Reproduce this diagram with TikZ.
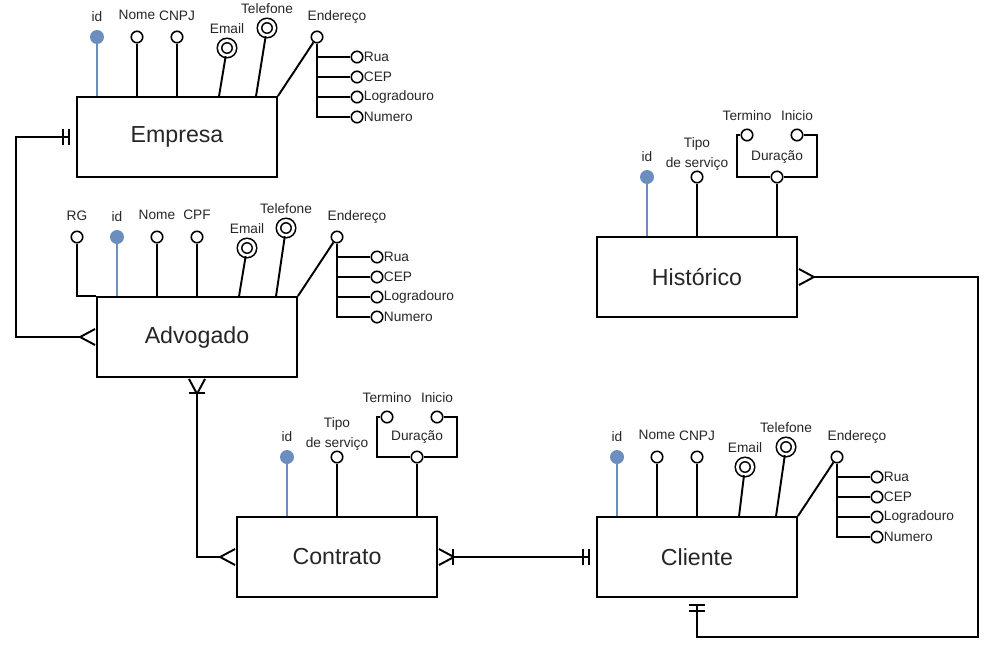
\documentclass[tikz,border=0pt]{standalone}
\usepackage{fontspec}
\setmainfont{Liberation Sans}
\usepackage{tikz}
\usetikzlibrary{arrows.meta,calc,positioning}
\definecolor{keyblue}{HTML}{6C8EBF}
\tikzset{entity/.style={draw,line width=1.1pt,minimum width=4cm,minimum height=1.6cm,font=\fontsize{13.2}{15}\selectfont,text=black!85},
  att/.style={circle,draw,line width=0.9pt,fill=white,inner sep=0pt,minimum size=0.23cm},
  keyatt/.style={circle,fill=keyblue,inner sep=0pt,minimum size=0.28cm},
  multi/.style={att,double,double distance=1.6pt,minimum size=0.3cm},
  lbl/.style={inner sep=0pt,anchor=base,yshift=#1,font=\fontsize{7.8}{11.3}\selectfont,text=black!85},
  lbl/.default=5.5pt,
  slbl/.style={inner sep=0pt,font=\fontsize{7.8}{9}\selectfont,text=black!85},
  edge/.style={line width=1.1pt},
  keyline/.style={keyblue,line width=1.1pt},
  crow/.tip={Straight Barb[reversed,length=0.3cm,width=0.32cm]},
  crowbar/.tip={Bar[width=0.32cm,sep=-0.08cm]Straight Barb[reversed,length=0.3cm,width=0.32cm]},
  bars/.tip={Bar[width=0.32cm,sep=0.08cm]Bar[width=0.32cm,sep=0.13cm]}}
\begin{document}
\begin{tikzpicture}[x=0.02cm,y=-0.02cm]
\useasboundingbox (0,0) rectangle (996,656);
% entities
\node[entity] (emp) at (177,137) {Empresa};
\node[entity] (adv) at (197,337) {Advogado};
\node[entity] (con) at (337,557) {Contrato};
\node[entity] (cli) at (697,557) {Cliente};
\node[entity] (his) at (697,277) {Histórico};

% Empresa
\node[keyatt,label={[lbl=4.5pt]above:id}] (emp-id) at (97,37) {};
\node[att,label={[lbl=6pt]above:Nome}] (emp-nome) at (137,37) {};
\node[att,label={[lbl]above:CNPJ}] (emp-cnpj) at (177,37) {};
\node[multi,label={[lbl=3.5pt]above:Email}] (emp-email) at (227,48) {};
\node[multi,label={[lbl=3.5pt]above:Telefone}] (emp-tel) at (267,28) {};
\node[att,label={[lbl,xshift=0.4cm]above:Endereço}] (emp-end) at (317,37) {};
\foreach \t/\n [count=\i] in {Rua/rua,CEP/cep,Logradouro/log,Numero/num}
  \node[att,label={[slbl]right:\t}] (emp-\n) at (357,37+20*\i) {};
\draw[keyline] (emp-id) -- (emp-id |- emp.north);
\draw[edge] (emp-nome) -- (emp-nome |- emp.north);
\draw[edge] (emp-cnpj) -- (emp.north);
\draw[edge] (emp-email) -- ($(emp.north west)+(143,0)$);
\draw[edge] (emp-tel) -- ($(emp.north west)+(180,0)$);
\draw[edge] (emp-end) -- (emp.north east);
\foreach \n in {rua,cep,log,num} \draw[edge] (emp-end) |- (emp-\n);

% Advogado
\node[att,label={[lbl]above:RG}] (adv-rg) at (77,237) {};
\node[keyatt,label={[lbl=4.5pt]above:id}] (adv-id) at (117,237) {};
\node[att,label={[lbl=6pt]above:Nome}] (adv-nome) at (157,237) {};
\node[att,label={[lbl=6pt]above:CPF}] (adv-cpf) at (197,237) {};
\node[multi,label={[lbl=3.5pt]above:Email}] (adv-email) at (247,248) {};
\node[multi,label={[lbl=3.5pt]above:Telefone}] (adv-tel) at (286,228) {};
\node[att,label={[lbl,xshift=0.4cm]above:Endereço}] (adv-end) at (337,237) {};
\foreach \t/\n [count=\i] in {Rua/rua,CEP/cep,Logradouro/log,Numero/num}
  \node[att,label={[slbl]right:\t}] (adv-\n) at (377,237+20*\i) {};
\draw[edge] (adv-rg) |- (adv.north west);
\draw[keyline] (adv-id) -- (adv-id |- adv.north);
\draw[edge] (adv-nome) -- (adv-nome |- adv.north);
\draw[edge] (adv-cpf) -- (adv.north);
\draw[edge] (adv-email) -- ($(adv.north west)+(143,0)$);
\draw[edge] (adv-tel) -- ($(adv.north west)+(180,0)$);
\draw[edge] (adv-end) -- (adv.north east);
\foreach \n in {rua,cep,log,num} \draw[edge] (adv-end) |- (adv-\n);

% Historico
\node[keyatt,label={[lbl=4.5pt]above:id}] (his-id) at (647,177) {};
\node[att,label={[lbl=0pt,anchor=south,align=center]above:Tipo\\de serviço}] (his-tipo) at (697,177) {};
\node[att,label={[lbl]above:Duração}] (his-dur) at (777,177) {};
\node[att,label={[lbl=4.5pt]above:Termino}] (his-ter) at (747,135) {};
\node[att,label={[lbl=4.5pt]above:Inicio}] (his-ini) at (797,135) {};
\draw[keyline] (his-id) -- (his-id |- his.north);
\draw[edge] (his-tipo) -- (his.north);
\draw[edge] (his-dur) -- (his-dur |- his.north);
\draw[edge] (his-ter) -- ++(-10,0) |- (his-dur);
\draw[edge] (his-ini) -- ++(20,0) |- (his-dur);

% Contrato
\node[keyatt,label={[lbl=4.5pt]above:id}] (con-id) at (287,457) {};
\node[att,label={[lbl=0pt,anchor=south,align=center]above:Tipo\\de serviço}] (con-tipo) at (337,457) {};
\node[att,label={[lbl]above:Duração}] (con-dur) at (417,457) {};
\node[att,label={[lbl=4.5pt]above:Termino}] (con-ter) at (387,417) {};
\node[att,label={[lbl=4.5pt]above:Inicio}] (con-ini) at (437,417) {};
\draw[keyline] (con-id) -- (con-id |- con.north);
\draw[edge] (con-tipo) -- (con.north);
\draw[edge] (con-dur) -- (con-dur |- con.north);
\draw[edge] (con-ter) -- ++(-10,0) |- (con-dur);
\draw[edge] (con-ini) -- ++(20,0) |- (con-dur);

% Cliente
\node[keyatt,label={[lbl=4.5pt]above:id}] (cli-id) at (617,457) {};
\node[att,label={[lbl=6pt]above:Nome}] (cli-nome) at (657,457) {};
\node[att,label={[lbl]above:CNPJ}] (cli-cnpj) at (697,457) {};
\node[multi,label={[lbl=3.5pt]above:Email}] (cli-email) at (745,467) {};
\node[multi,label={[lbl=3.5pt]above:Telefone}] (cli-tel) at (786,447) {};
\node[att,label={[lbl,xshift=0.4cm]above:Endereço}] (cli-end) at (837,457) {};
\foreach \t/\n [count=\i] in {Rua/rua,CEP/cep,Logradouro/log,Numero/num}
  \node[att,label={[slbl]right:\t}] (cli-\n) at (877,457+20*\i) {};
\draw[keyline] (cli-id) -- (cli-id |- cli.north);
\draw[edge] (cli-nome) -- (cli-nome |- cli.north);
\draw[edge] (cli-cnpj) -- (cli.north);
\draw[edge] (cli-email) -- ($(cli.north west)+(143,0)$);
\draw[edge] (cli-tel) -- ($(cli.north west)+(180,0)$);
\draw[edge] (cli-end) -- (cli.north east);
\foreach \n in {rua,cep,log,num} \draw[edge] (cli-end) |- (cli-\n);

% relacoes
\draw[edge,bars-crow] (emp.west) -- ++(-60,0) |- (adv.west);
\draw[edge,crowbar-crow] (adv.south) |- (con.west);
\draw[edge,crowbar-bars] (con.east) -- (cli.west);
\draw[edge,crow-bars] (his.east) -| ++(180,360) -| (cli.south);
\end{tikzpicture}
\end{document}
